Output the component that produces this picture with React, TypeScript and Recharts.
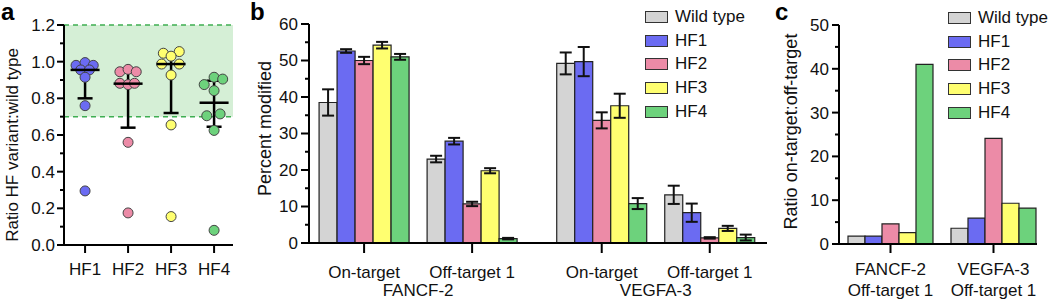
import React from "react";
import {
  Bar,
  BarChart,
  ComposedChart,
  ErrorBar,
  Legend,
  ReferenceArea,
  ReferenceLine,
  Scatter,
  XAxis,
  YAxis,
} from "recharts";

const FONT = "'Liberation Sans', Arial, Helvetica, sans-serif";
const INK = "#111";

// shared series
const variants = ["Wild type", "HF1", "HF2", "HF3", "HF4"];
const variantKeys = ["wt", "hf1", "hf2", "hf3", "hf4"];
const variantColors = ["#d4d4d4", "#6b6bf2", "#ec8ba7", "#ffff70", "#6dd27c"];

// panel a: ratio HF variant : wild type, one dot per site
const hfLabels = ["HF1", "HF2", "HF3", "HF4"];
const hf1Ratios = [0.98, 0.995, 0.98, 0.955, 0.955, 0.915, 0.76, 0.295];
const hf1Jitter = [-0.21, 0, 0.19, -0.1, 0.1, 0, 0, 0];
const hf2Ratios = [0.945, 0.958, 0.945, 0.882, 0.875, 0.882, 0.56, 0.175];
const hf2Jitter = [-0.19, 0, 0.19, -0.19, 0, 0.15, 0, 0];
const hf3Ratios = [1.046, 1.055, 1.03, 0.987, 0.987, 0.927, 0.655, 0.155];
const hf3Jitter = [-0.18, 0.19, 0, -0.22, 0.19, 0, 0, 0];
const hf4Ratios = [0.875, 0.915, 0.905, 0.842, 0.705, 0.715, 0.625, 0.08];
const hf4Jitter = [-0.23, 0, 0.2, 0, -0.17, 0.14, 0, 0];
const ratioMedian = [0.955, 0.88, 0.987, 0.776];
const ratioLower = [0.8, 0.64, 0.72, 0.645];
const ratioUpper = [0.975, 0.945, 1.043, 0.896];
const ratioTicks = [0, 0.1, 0.2, 0.3, 0.4, 0.5, 0.6, 0.7, 0.8, 0.9, 1.0, 1.1, 1.2];

// panel b: percent modified
const siteLabels = ["On-target", "Off-target 1", "On-target", "Off-target 1"];
const sitePos = [1, 2, 3.2, 4.2];
const geneLabels = ["FANCF-2", "VEGFA-3"];
const genePos = [1.5, 3.7];
const wtPct = [38.5, 23.0, 49.2, 13.2];
const wtPctErr = [3.6, 0.9, 3.0, 2.5];
const hf1Pct = [52.6, 27.9, 49.7, 8.3];
const hf1PctErr = [0.5, 0.9, 4.0, 2.5];
const hf2Pct = [50.0, 10.7, 33.6, 1.4];
const hf2PctErr = [1.0, 0.6, 2.2, 0.2];
const hf3Pct = [54.2, 19.8, 37.6, 4.0];
const hf3PctErr = [0.9, 0.7, 3.3, 0.7];
const hf4Pct = [51.0, 1.2, 10.8, 1.5];
const hf4PctErr = [0.8, 0.2, 1.5, 0.8];
const pctTicks = [0, 5, 10, 15, 20, 25, 30, 35, 40, 45, 50, 55, 60];

// panel c: ratio on-target : off-target
const offSites = ["FANCF-2", "VEGFA-3"];
const offSiteLine2 = "Off-target 1";
const wtSpec = [1.8, 3.6];
const hf1Spec = [1.8, 5.9];
const hf2Spec = [4.6, 24.1];
const hf3Spec = [2.6, 9.3];
const hf4Spec = [41.0, 8.2];
const specTicks = [0, 5, 10, 15, 20, 25, 30, 35, 40, 45, 50];

const hfPoints = [
  { ratios: hf1Ratios, jitter: hf1Jitter },
  { ratios: hf2Ratios, jitter: hf2Jitter },
  { ratios: hf3Ratios, jitter: hf3Jitter },
  { ratios: hf4Ratios, jitter: hf4Jitter },
];

const medianRows = ratioMedian.map((m, i) => ({
  x: i + 1,
  y: m,
  err: [m - ratioLower[i], ratioUpper[i] - m],
}));

const pctSeries = [wtPct, hf1Pct, hf2Pct, hf3Pct, hf4Pct];
const pctErrSeries = [wtPctErr, hf1PctErr, hf2PctErr, hf3PctErr, hf4PctErr];
const pctRows = sitePos.map((x, i) => {
  const row: Record<string, number> = { x };
  variantKeys.forEach((k, j) => {
    row[k] = pctSeries[j][i];
    row[k + "Err"] = pctErrSeries[j][i];
  });
  return row;
});

const specSeries = [wtSpec, hf1Spec, hf2Spec, hf3Spec, hf4Spec];
const specRows = offSites.map((site, i) => {
  const row: Record<string, string | number> = { site };
  variantKeys.forEach((k, j) => {
    row[k] = specSeries[j][i];
  });
  return row;
});

const axisLine = { stroke: "#000", strokeWidth: 2 };
const tickLine = { stroke: "#000", strokeWidth: 2 };
const tickText = { fontSize: 17, fill: INK, fontFamily: FONT };

// y ticks with short minor marks; labels only on the major ones
function makeYTick(majorStep: number, decimals: number, size: number, margin: number) {
  return (props: any) => {
    const { x, y, payload } = props;
    const axisX = x + size + margin;
    const v = payload.value as number;
    const isMajor = Math.abs(v / majorStep - Math.round(v / majorStep)) < 1e-6;
    return (
      <g>
        <line x1={axisX - (isMajor ? size : 4)} x2={axisX} y1={y} y2={y} stroke="#000" strokeWidth={2} />
        {isMajor && (
          <text x={x} y={y} dy="0.35em" textAnchor="end" fontSize={17} fontFamily={FONT} fill={INK}>
            {v.toFixed(decimals)}
          </text>
        )}
      </g>
    );
  };
}

function yTitle(value: string, offset: number, dy: number, fontSize: number) {
  return {
    value,
    angle: -90,
    position: "insideLeft" as const,
    offset,
    dy,
    style: { textAnchor: "middle", fontSize, fill: INK, fontFamily: FONT },
  };
}

function VariantLegend() {
  return (
    <div style={{ fontFamily: FONT, fontSize: 17, color: INK }}>
      {variants.map((name, i) => (
        <div key={name} style={{ display: "flex", alignItems: "center", height: 23.7 }}>
          <span
            style={{
              display: "inline-block",
              width: 21,
              height: 10,
              background: variantColors[i],
              border: "1.5px solid #333",
              marginRight: 7,
            }}
          />
          <span>{name}</span>
        </div>
      ))}
    </div>
  );
}

function TwoLineTick(props: any) {
  const { x, y, payload } = props;
  return (
    <text x={x} y={y} textAnchor="middle" fontSize={17} fontFamily={FONT} fill={INK}>
      <tspan x={x} dy="0.71em">{payload.value}</tspan>
      <tspan x={x} dy="1.25em">{offSiteLine2}</tspan>
    </text>
  );
}

function PanelA() {
  return (
    <div style={{ position: "absolute", left: 0, top: 0 }}>
      <ComposedChart width={240} height={301} margin={{ top: 25, right: 7, bottom: 26, left: 0 }}>
        <XAxis
          dataKey="x"
          type="number"
          domain={[0.51, 4.44]}
          ticks={[1, 2, 3, 4]}
          interval={0}
          allowDataOverflow
          tickFormatter={(v: number) => hfLabels[v - 1]}
          height={30}
          tickSize={8}
          tickMargin={10}
          axisLine={axisLine}
          tickLine={tickLine}
          tick={tickText}
        />
        <YAxis
          dataKey="y"
          type="number"
          domain={[0, 1.2]}
          ticks={ratioTicks}
          interval={0}
          allowDataOverflow
          width={64}
          tickSize={7}
          tickMargin={2}
          tickLine={false}
          axisLine={axisLine}
          tick={makeYTick(0.2, 1, 7, 2)}
          label={yTitle("Ratio HF variant:wild type", 12, 10, 17)}
        />
        <ReferenceArea y1={0.7} y2={1.2} fill="#d5efd6" fillOpacity={1} stroke="none" />
        <ReferenceLine y={0.7} stroke="#3fae52" strokeWidth={1.5} strokeDasharray="5 4" />
        <ReferenceLine y={1.2} stroke="#3fae52" strokeWidth={1.5} strokeDasharray="5 4" />
        {hfPoints.map((g, i) => (
          <Scatter
            key={hfLabels[i]}
            data={g.ratios.map((y, j) => ({ x: i + 1 + g.jitter[j], y }))}
            isAnimationActive={false}
            shape={(p: any) => (
              <circle cx={p.cx} cy={p.cy} r={5} fill={variantColors[i + 1]} stroke="#444" strokeWidth={1} />
            )}
          />
        ))}
        <Scatter
          data={medianRows}
          isAnimationActive={false}
          shape={(p: any) => (
            <line x1={p.cx - 14.5} x2={p.cx + 14.5} y1={p.cy} y2={p.cy} stroke="#000" strokeWidth={2.5} />
          )}
        >
          <ErrorBar dataKey="err" direction="y" width={7.5} stroke="#000" strokeWidth={2.5} />
        </Scatter>
      </ComposedChart>
    </div>
  );
}

function PanelB() {
  return (
    <div style={{ position: "absolute", left: 240, top: 0 }}>
      <BarChart
        width={540}
        height={301}
        data={pctRows}
        margin={{ top: 24, right: 13, bottom: 30, left: 0 }}
        barGap={0}
        barSize={18}
      >
        <XAxis
          dataKey="x"
          type="number"
          domain={[0.49, 4.73]}
          ticks={sitePos}
          interval={0}
          allowDataOverflow
          tickFormatter={(v: number) => siteLabels[sitePos.indexOf(v)]}
          height={28}
          tickSize={10}
          tickMargin={13}
          axisLine={axisLine}
          tickLine={tickLine}
          tick={tickText}
        />
        <YAxis
          type="number"
          domain={[0, 60]}
          ticks={pctTicks}
          interval={0}
          allowDataOverflow
          width={69}
          tickSize={8}
          tickMargin={3}
          tickLine={false}
          axisLine={axisLine}
          tick={makeYTick(10, 0, 8, 3)}
          label={yTitle("Percent modified", 25, -5, 18)}
        />
        {variantKeys.map((k, i) => (
          <Bar key={k} dataKey={k} fill={variantColors[i]} stroke="#222" strokeWidth={1.2} isAnimationActive={false}>
            <ErrorBar dataKey={k + "Err"} direction="y" width={6} stroke="#111" strokeWidth={2} />
          </Bar>
        ))}
        {genePos.map((x, i) => (
          <ReferenceLine
            key={geneLabels[i]}
            x={x}
            strokeOpacity={0}
            label={{
              value: geneLabels[i],
              position: "bottom",
              offset: 41,
              fontSize: 17,
              fill: INK,
              fontFamily: FONT,
            }}
          />
        ))}
        <Legend
          layout="vertical"
          align="center"
          verticalAlign="middle"
          content={() => <VariantLegend />}
          wrapperStyle={{ left: 405, top: 5, width: "auto" }}
        />
      </BarChart>
    </div>
  );
}

function PanelC() {
  return (
    <div style={{ position: "absolute", left: 770, top: 0 }}>
      <BarChart
        width={280}
        height={301}
        data={specRows}
        margin={{ top: 25, right: 13, bottom: 0, left: 0 }}
        barGap={0}
        barSize={17}
      >
        <XAxis
          dataKey="site"
          padding={{ left: 0, right: -8 }}
          height={57}
          tickSize={9}
          tickMargin={10}
          interval={0}
          axisLine={axisLine}
          tickLine={tickLine}
          tick={<TwoLineTick />}
        />
        <YAxis
          type="number"
          domain={[0, 50]}
          ticks={specTicks}
          interval={0}
          allowDataOverflow
          width={69}
          tickSize={7}
          tickMargin={3}
          tickLine={false}
          axisLine={axisLine}
          tick={makeYTick(10, 0, 7, 3)}
          label={yTitle("Ratio on-target:off-target", 21, -3, 18)}
        />
        {variantKeys.map((k, i) => (
          <Bar key={k} dataKey={k} fill={variantColors[i]} stroke="#222" strokeWidth={1.2} isAnimationActive={false} />
        ))}
        <Legend
          layout="vertical"
          align="center"
          verticalAlign="middle"
          content={() => <VariantLegend />}
          wrapperStyle={{ left: 178, top: 6, width: "auto" }}
        />
      </BarChart>
    </div>
  );
}

const letterStyle = (left: number): React.CSSProperties => ({
  position: "absolute",
  left,
  top: 0,
  fontFamily: FONT,
  fontWeight: 700,
  fontSize: 24,
  lineHeight: "24px",
  color: "#000",
});

export default function App() {
  return (
    <div style={{ position: "absolute", left: 0, top: 0, width: 1050, height: 301, background: "#fff", fontFamily: FONT }}>
      <PanelA />
      <PanelB />
      <PanelC />
      <div style={letterStyle(1)}>a</div>
      <div style={letterStyle(250)}>b</div>
      <div style={letterStyle(775)}>c</div>
    </div>
  );
}
